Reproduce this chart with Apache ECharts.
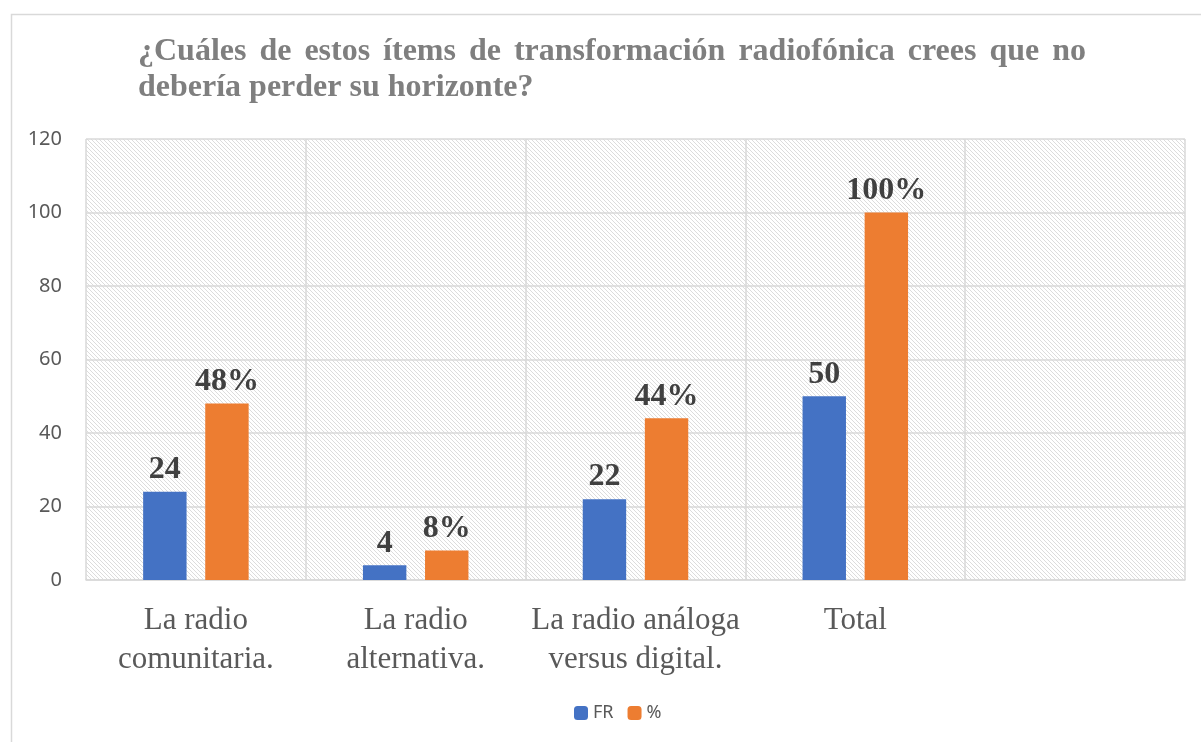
<!DOCTYPE html>
<html>
<head>
<meta charset="utf-8">
<script src="https://cdn.jsdelivr.net/npm/echarts@6/dist/echarts.min.js"></script>
<style>
  html, body { margin: 0; padding: 0; background: #fff; }
  #chart { width: 1201px; height: 742px; }
</style>
</head>
<body>
<div id="chart"></div>
<script>
// data
const categories = ['La radio\ncomunitaria.', 'La radio\nalternativa.', 'La radio análoga\nversus digital.', 'Total', ''];
const frValues = [24, 4, 22, 50, null];
const pctValues = [48, 8, 44, 100, null];
const yTicks = { min: 0, max: 120, interval: 20 };
const titleLine1 = '¿Cuáles de estos ítems de transformación radiofónica crees que no';
const titleLine2 = 'debería perder su horizonte?';

// hatched plot background
function makeHatch() {
  const c = document.createElement('canvas');
  c.width = 8; c.height = 8;
  const ctx = c.getContext('2d');
  ctx.fillStyle = '#ffffff';
  ctx.fillRect(0, 0, 8, 8);
  ctx.fillStyle = '#dcdcdc';
  for (let i = 0; i < 8; i++) {
    ctx.fillRect(i, i, 1, 1);
    ctx.fillRect((i + 4) % 8, i, 1, 1);
  }
  return c;
}

// justified first title line, built from words
const titleFont = "bold 32px 'Liberation Serif'";
function titleGraphics() {
  const ctx = document.createElement('canvas').getContext('2d');
  ctx.font = titleFont;
  const words = titleLine1.split(' ');
  const widths = words.map(w => ctx.measureText(w).width);
  const left = 138, right = 1086;
  const total = widths.reduce((a, b) => a + b, 0);
  const gap = (right - left - total) / (words.length - 1);
  const out = [];
  let x = left;
  words.forEach((w, i) => {
    out.push({
      type: 'text', left: x, top: 36,
      style: { text: w, font: titleFont, fill: '#7f7f7f' }
    });
    x += widths[i] + gap;
  });
  out.push({
    type: 'text', left: left, top: 72,
    style: { text: titleLine2, font: titleFont, fill: '#7f7f7f' }
  });
  return out;
}

const myChart = echarts.init(document.getElementById('chart'));
const labelStyle = {
  show: true,
  position: 'top',
  distance: 6,
  fontFamily: 'Liberation Serif',
  fontWeight: 'bold',
  fontSize: 32,
  color: '#404040'
};

const option = {
  animation: false,
  backgroundColor: '#fff',
  graphic: [
    {
      type: 'rect', left: 9, top: 12, silent: true,
      shape: { width: 1400, height: 900 },
      style: { fill: null, stroke: '#d9d9d9', lineWidth: 1.5 }
    },
    ...titleGraphics()
  ],
  legend: {
    top: 699,
    left: 569,
    itemWidth: 14,
    itemHeight: 14,
    itemGap: 14,
    textStyle: { fontFamily: 'Noto Sans', fontSize: 18, color: '#595959' },
    data: ['FR', '%']
  },
  grid: {
    left: 86, right: 16, top: 139, bottom: 162,
    show: true,
    borderWidth: 0,
    backgroundColor: { image: makeHatch(), repeat: 'repeat' }
  },
  xAxis: {
    type: 'category',
    data: categories,
    axisLine: { lineStyle: { color: '#d9d9d9', width: 1.5 } },
    axisTick: { show: false },
    splitLine: { show: true, lineStyle: { color: '#d9d9d9', width: 1.5 } },
    axisLabel: {
      interval: 0,
      margin: 21,
      fontFamily: 'Liberation Serif',
      fontSize: 31,
      lineHeight: 39,
      color: '#595959'
    }
  },
  yAxis: {
    type: 'value',
    min: yTicks.min,
    max: yTicks.max,
    interval: yTicks.interval,
    axisLine: { show: false },
    axisTick: { show: false },
    splitLine: { lineStyle: { color: '#d9d9d9', width: 1.5 } },
    axisLabel: {
      margin: 24,
      fontFamily: 'Noto Sans',
      fontSize: 20,
      color: '#595959'
    }
  },
  series: [
    {
      name: 'FR',
      type: 'bar',
      data: frValues,
      itemStyle: { color: '#4472C4' },
      barGap: '43%',
      barCategoryGap: '52%',
      label: labelStyle
    },
    {
      name: '%',
      type: 'bar',
      data: pctValues,
      itemStyle: { color: '#ED7D31' },
      label: { ...labelStyle, formatter: p => p.value + '%' }
    }
  ]
};
option && myChart.setOption(option);
</script>
</body>
</html>
